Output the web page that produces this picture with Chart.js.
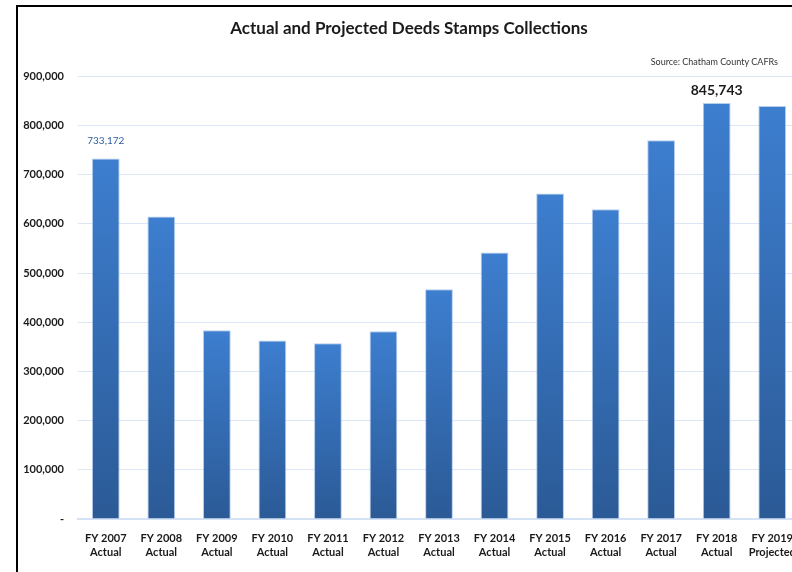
<!DOCTYPE html>
<html>
<head>
<meta charset="utf-8">
<script src="https://cdn.jsdelivr.net/npm/chart.js@4"></script>
<style>
  html, body { margin: 0; padding: 0; background: #fff; overflow: hidden; width: 792px; height: 572px; }
  #frame { position: absolute; left: 16px; top: 5px; width: 800px; height: 580px; border-left: 2px solid #000; border-top: 2px solid #000; }
  #wrap { position: absolute; left: 18px; top: 7px; width: 784px; height: 565px; }
</style>
</head>
<body>
<div id="frame"></div>
<div id="wrap"><canvas id="chart"></canvas></div>
<script>
const years = ['FY 2007', 'FY 2008', 'FY 2009', 'FY 2010', 'FY 2011', 'FY 2012', 'FY 2013',
               'FY 2014', 'FY 2015', 'FY 2016', 'FY 2017', 'FY 2018', 'FY 2019'];
const kinds = ['Actual', 'Actual', 'Actual', 'Actual', 'Actual', 'Actual', 'Actual',
               'Actual', 'Actual', 'Actual', 'Actual', 'Actual', 'Projected'];
const collections = [733172, 615000, 384000, 363000, 357500, 382000, 467000,
                     542000, 662000, 630000, 770000, 845743, 840000];
const yTicks = [0, 100000, 200000, 300000, 400000, 500000, 600000, 700000, 800000, 900000];
const sourceNote = 'Source: Chatham County CAFRs';

const FONT = 'Lato, "Liberation Sans", sans-serif';

// per-bar gradient, light at top, dark at base
function barFill(ctx) {
    const chart = ctx.chart;
    if (!chart.chartArea || ctx.raw == null) return '#3574c2';
    const y = chart.scales.y;
    const top = y.getPixelForValue(ctx.raw);
    const base = y.getPixelForValue(0);
    const g = chart.ctx.createLinearGradient(0, top, 0, base);
    g.addColorStop(0, '#3d7ecf');
    g.addColorStop(1, '#2b5a96');
    return g;
}

const extras = {
    id: 'extras',
    afterDatasetsDraw(chart) {
        const c = chart.ctx;
        const meta = chart.getDatasetMeta(0);
        c.save();
        c.textAlign = 'center';
        c.textBaseline = 'middle';

        // first bar label, small blue
        const b0 = meta.data[0];
        c.fillStyle = '#2e5f9f';
        c.font = '10px ' + FONT;
        c.fillText(collections[0].toLocaleString('en-US'), b0.x, b0.y - 18);

        // FY 2018 label, bold
        const b11 = meta.data[11];
        c.fillStyle = '#1a1a1a';
        c.font = 'bold 14px ' + FONT;
        c.fillText(collections[11].toLocaleString('en-US'), b11.x, b11.y - 13);

        // source note
        c.fillStyle = '#333';
        c.font = '9px ' + FONT;
        c.textAlign = 'right';
        c.fillText(sourceNote, 760, 55);
        c.restore();
    }
};

new Chart(document.getElementById('chart'), {
    type: 'bar',
    data: {
        labels: years.map((y, i) => [y, kinds[i]]),
        datasets: [{
            data: collections,
            backgroundColor: barFill,
            borderColor: 'rgba(150,185,228,0.7)',
            borderWidth: 1,
            categoryPercentage: 1,
            barPercentage: 0.5
        }]
    },
    options: {
        responsive: true,
        maintainAspectRatio: false,
        animation: false,
        layout: { padding: { top: 0, right: 2, left: 0, bottom: 0 } },
        scales: {
            x: {
                grid: { display: false },
                border: { color: '#d3e2f4', width: 2 },
                ticks: { color: '#1a1a1a', font: { family: FONT, size: 11, weight: 'bold', lineHeight: 1.3 }, padding: 4, maxRotation: 0, autoSkip: false },
                afterFit(scale) { scale.height = 53; }
            },
            y: {
                min: 0,
                max: 900000,
                afterBuildTicks(axis) { axis.ticks = yTicks.map(v => ({ value: v })); },
                grid: { color: '#dbe7f6', lineWidth: 1, drawTicks: false },
                border: { display: false },
                ticks: {
                    color: '#1a1a1a',
                    font: { family: FONT, size: 11, weight: 'bold' },
                    padding: 14,
                    callback: v => v === 0 ? '-' : v.toLocaleString('en-US')
                },
                afterFit(scale) { scale.width = 60; }
            }
        },
        plugins: {
            legend: { display: false },
            tooltip: { enabled: false },
            title: {
                display: true,
                text: 'Actual and Projected Deeds Stamps Collections',
                color: '#1a1a1a',
                font: { family: FONT, size: 17, weight: 'bold' },
                padding: { top: 11, bottom: 38 }
            }
        }
    },
    plugins: [extras]
});
</script>
</body>
</html>
